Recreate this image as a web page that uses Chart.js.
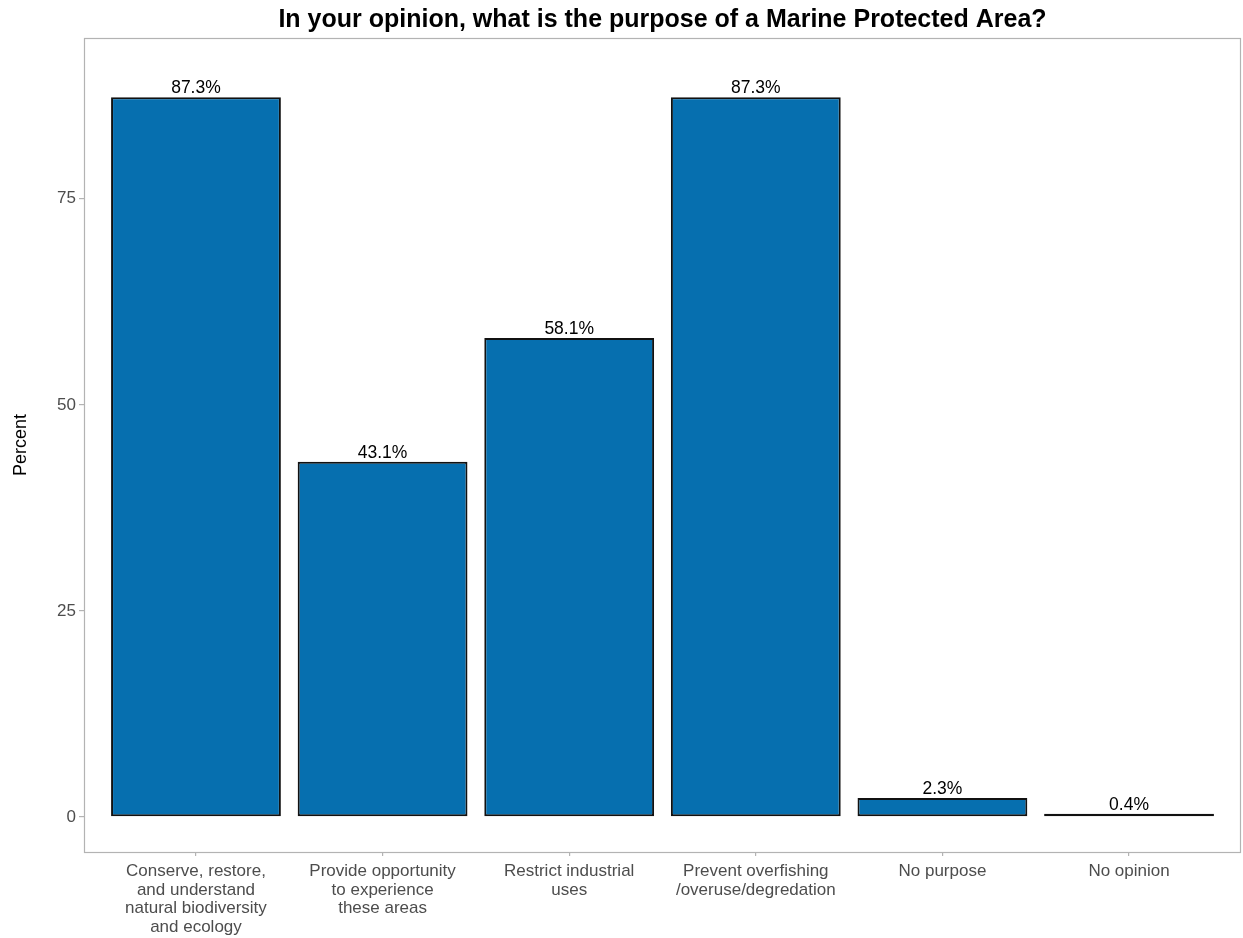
<!DOCTYPE html>
<html>
<head>
<meta charset="utf-8">
<script src="https://cdn.jsdelivr.net/npm/chart.js@4/dist/chart.umd.min.js"></script>
<style>
  html, body { margin: 0; padding: 0; background: #fff; }
  #wrap { width: 1243px; height: 938px; }
</style>
</head>
<body>
<div id="wrap"><canvas id="mpa-chart" width="1243" height="938"></canvas></div>
<script>
// data
const categories = [
    ['Conserve, restore,', 'and understand', 'natural biodiversity', 'and ecology'],
    ['Provide opportunity', 'to experience', 'these areas'],
    ['Restrict industrial', 'uses'],
    ['Prevent overfishing', '/overuse/degredation'],
    ['No purpose'],
    ['No opinion']
];
const percents = [87.3, 43.1, 58.1, 87.3, 2.3, 0.4];
const yTicks = [0, 25, 50, 75];
const chartTitle = 'In your opinion, what is the purpose of a Marine Protected Area?';

const FONT = 'Liberation Sans, Arial, sans-serif';
const GREY = '#4d4d4d';
const FRAME = '#b3b3b3';

// full panel border plus the title above it
const framePlugin = {
    id: 'frame',
    afterDraw(chart) {
        const { ctx, chartArea: a } = chart;
        ctx.save();
        ctx.strokeStyle = FRAME;
        ctx.lineWidth = 1.2;
        ctx.strokeRect(a.left + 0.5, a.top + 0.5, a.right - a.left - 1, a.bottom - a.top);
        ctx.fillStyle = '#000';
        ctx.font = 'bold 25px ' + FONT;
        ctx.textAlign = 'center';
        ctx.textBaseline = 'alphabetic';
        ctx.fillText(chartTitle, (a.left + a.right) / 2, 27);
        ctx.restore();
    }
};

// percent labels over each bar
const valueLabels = {
    id: 'valueLabels',
    afterDatasetsDraw(chart) {
        const { ctx } = chart;
        const meta = chart.getDatasetMeta(0);
        ctx.save();
        ctx.fillStyle = '#000';
        ctx.font = '17.5px ' + FONT;
        ctx.textAlign = 'center';
        ctx.textBaseline = 'alphabetic';
        meta.data.forEach((bar, i) => {
            ctx.fillText(percents[i].toFixed(1) + '%', bar.x, bar.y - 4);
        });
        ctx.restore();
    }
};

const ctx = document.getElementById('mpa-chart').getContext('2d');
new Chart(ctx, {
    type: 'bar',
    data: {
        datasets: [{
            data: percents.map((v, i) => ({ x: i + 1, y: v })),
            backgroundColor: '#066faf',
            borderColor: '#111',
            borderWidth: 2,
            borderSkipped: false,
            categoryPercentage: 0.91,
            barPercentage: 1.0
        }]
    },
    options: {
        responsive: false,
        animation: false,
        layout: { padding: { top: 38, right: 2, left: 10, bottom: 0 } },
        plugins: {
            legend: { display: false },
            tooltip: { enabled: false },
            title: { display: false }
        },
        scales: {
            x: {
                type: 'linear',
                min: 0.4,
                max: 6.6,
                offset: false,
                afterBuildTicks(scale) {
                    scale.ticks = categories.map((c, i) => ({ value: i + 1 }));
                },
                afterFit(scale) { scale.height = 86; },
                grid: { display: true, offset: false, drawOnChartArea: false, drawTicks: true, tickLength: 4, color: FRAME, lineWidth: 1.2 },
                border: { display: false },
                ticks: {
                    autoSkip: false,
                    maxRotation: 0,
                    padding: 6,
                    color: GREY,
                    font: { family: FONT, size: 17, lineHeight: 1.1 },
                    callback: (v) => categories[v - 1]
                }
            },
            y: {
                min: -4.25,
                max: 94.5,
                afterBuildTicks(scale) {
                    scale.ticks = yTicks.map(v => ({ value: v }));
                },
                afterFit(scale) { scale.width = 74; },
                grid: { display: true, drawOnChartArea: false, drawTicks: true, tickLength: 5, color: FRAME, lineWidth: 1.2 },
                border: { display: false },
                ticks: {
                    padding: 3,
                    color: GREY,
                    font: { family: FONT, size: 17 }
                },
                title: {
                    display: true,
                    text: 'Percent',
                    color: '#000',
                    font: { family: FONT, size: 18 },
                    padding: { top: 0, bottom: 0 }
                }
            }
        }
    },
    plugins: [framePlugin, valueLabels]
});
</script>
</body>
</html>
